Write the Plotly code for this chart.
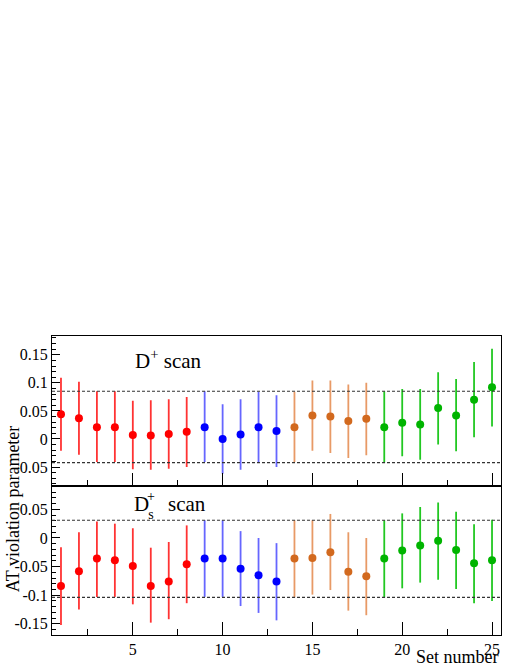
import plotly.graph_objects as go
from plotly.subplots import make_subplots

set_number = list(range(1, 26))
group_names = ["red", "blue", "orange", "green"]
group_slices = [(0, 8), (8, 13), (13, 18), (18, 25)]
marker_colors = ["#ff0000", "#0000ff", "#d2691e", "#00b400"]
bar_colors = ["#ff3333", "#6666ff", "#e89a66", "#22c822"]

# D+ scan (top panel)
top_val = [0.044, 0.037, 0.021, 0.021, 0.007, 0.006, 0.009, 0.013, 0.021, 0.000, 0.008, 0.021, 0.014,
           0.021, 0.042, 0.040, 0.032, 0.036, 0.021, 0.029, 0.026, 0.055, 0.042, 0.070, 0.092]
top_hi = [0.109, 0.102, 0.085, 0.085, 0.068, 0.069, 0.071, 0.075, 0.085, 0.062, 0.071, 0.084, 0.078,
          0.084, 0.104, 0.104, 0.097, 0.100, 0.085, 0.089, 0.089, 0.119, 0.107, 0.137, 0.161]
top_lo = [-0.021, -0.028, -0.041, -0.041, -0.054, -0.055, -0.053, -0.050, -0.041, -0.062, -0.055, -0.042, -0.050,
          -0.041, -0.021, -0.025, -0.034, -0.029, -0.042, -0.031, -0.037, -0.010, -0.022, 0.003, 0.022]

# Ds+ scan (bottom panel)
bot_val = [-0.084, -0.058, -0.036, -0.039, -0.049, -0.084, -0.076, -0.046, -0.036, -0.036, -0.054, -0.065, -0.076,
           -0.036, -0.035, -0.025, -0.059, -0.067, -0.036, -0.022, -0.013, -0.005, -0.021, -0.044, -0.039]
bot_hi = [-0.016, 0.010, 0.029, 0.025, 0.017, -0.017, -0.007, 0.022, 0.031, 0.031, 0.012, 0.000, -0.009,
          0.031, 0.031, 0.042, 0.010, 0.000, 0.031, 0.043, 0.054, 0.062, 0.046, 0.024, 0.032]
bot_lo = [-0.152, -0.125, -0.103, -0.103, -0.116, -0.148, -0.142, -0.114, -0.103, -0.103, -0.119, -0.131, -0.144,
          -0.104, -0.099, -0.091, -0.127, -0.135, -0.104, -0.088, -0.078, -0.073, -0.089, -0.114, -0.110]

top_band = [0.085, -0.042]
bot_band = [0.031, -0.104]

x_tickvals = [5, 10, 15, 20, 25]
x_ticktext = ["5", "10", "15", "20", "25"]
top_tickvals = [0.15, 0.1, 0.05, 0, -0.05]
top_ticktext = ["0.15", "0.1", "0.05", "0", "-0.05"]
bot_tickvals = [0.05, 0, -0.05, -0.1, -0.15]
bot_ticktext = ["0.05", "0", "-0.05", "-0.1", "-0.15"]

FONT = "Liberation Serif, Times New Roman, serif"

fig = make_subplots(rows=2, cols=1, shared_xaxes=True, vertical_spacing=0,
                    row_heights=[152, 150])

for row, (vals, his, los) in enumerate([(top_val, top_hi, top_lo), (bot_val, bot_hi, bot_lo)], start=1):
    for gi, (a, b) in enumerate(group_slices):
        xs = set_number[a:b]
        v = vals[a:b]
        up = [h - c for h, c in zip(his[a:b], v)]
        dn = [c - l for l, c in zip(los[a:b], v)]
        fig.add_trace(go.Scatter(
            x=xs, y=v, mode="markers", name=group_names[gi], showlegend=False,
            marker=dict(color=marker_colors[gi], size=8),
            error_y=dict(type="data", symmetric=False, array=up, arrayminus=dn,
                         color=bar_colors[gi], thickness=1.8, width=0),
        ), row=row, col=1)

for yv in top_band:
    fig.add_shape(type="line", xref="x domain", yref="y", x0=0, x1=1, y0=yv, y1=yv,
                  line=dict(color="#333333", width=1.2, dash="3px,2px"))
for yv in bot_band:
    fig.add_shape(type="line", xref="x2 domain", yref="y2", x0=0, x1=1, y0=yv, y1=yv,
                  line=dict(color="#333333", width=1.2, dash="3px,2px"))

axis_common = dict(showline=True, linecolor="black", linewidth=1, mirror=True,
                   showgrid=False, zeroline=False, ticks="inside", tickcolor="black",
                   tickfont=dict(family=FONT, size=16, color="black"))

fig.update_xaxes(range=[0.5, 25.5], tickvals=x_tickvals, ticktext=x_ticktext, ticklen=13,
                 minor=dict(dtick=2.5, tick0=0, ticklen=6, ticks="inside", tickcolor="black"),
                 **axis_common)
fig.update_xaxes(showticklabels=False, row=1, col=1)

fig.update_yaxes(range=[-0.0847, 0.1835], tickvals=top_tickvals, ticktext=top_ticktext, ticklen=8,
                 minor=dict(dtick=0.01, tick0=0, ticklen=4, ticks="inside", tickcolor="black"),
                 row=1, col=1, **axis_common)
fig.update_yaxes(range=[-0.1696, 0.09], tickvals=bot_tickvals, ticktext=bot_ticktext, ticklen=8,
                 minor=dict(dtick=0.01, tick0=0, ticklen=4, ticks="inside", tickcolor="black"),
                 row=2, col=1, **axis_common)


def px(xp):
    return (xp - 52) / 449


def py(yp):
    return (638 - yp) / 302


def ann(text, x, y, size, xanchor="left", yanchor="middle", angle=0):
    return dict(text=text, x=x, y=y, xref="paper", yref="paper", xanchor=xanchor, yanchor=yanchor,
                showarrow=False, textangle=angle, font=dict(family=FONT, size=size, color="black"))


fig.update_layout(
    width=518, height=670,
    margin=dict(l=52, r=17, t=336, b=32),
    paper_bgcolor="white", plot_bgcolor="white",
    font=dict(family=FONT, size=16, color="black"),
    annotations=[
        ann("D<sup>+</sup> scan", px(133), py(360), 21),
        ann("D", px(132), py(506), 21),
        ann("+<br>s", px(145), py(507), 14),
        ann("scan", px(166), py(506), 21),
        ann("AT violation parameter", px(13), py(511), 18, xanchor="center", angle=-90),
        ann("Set number", px(501), py(672), 18, xanchor="right", yanchor="bottom"),
    ],
)

fig.write_html("out.html", config={"displayModeBar": False},
               post_script="document.body.style.margin='0';document.body.style.padding='0';")
